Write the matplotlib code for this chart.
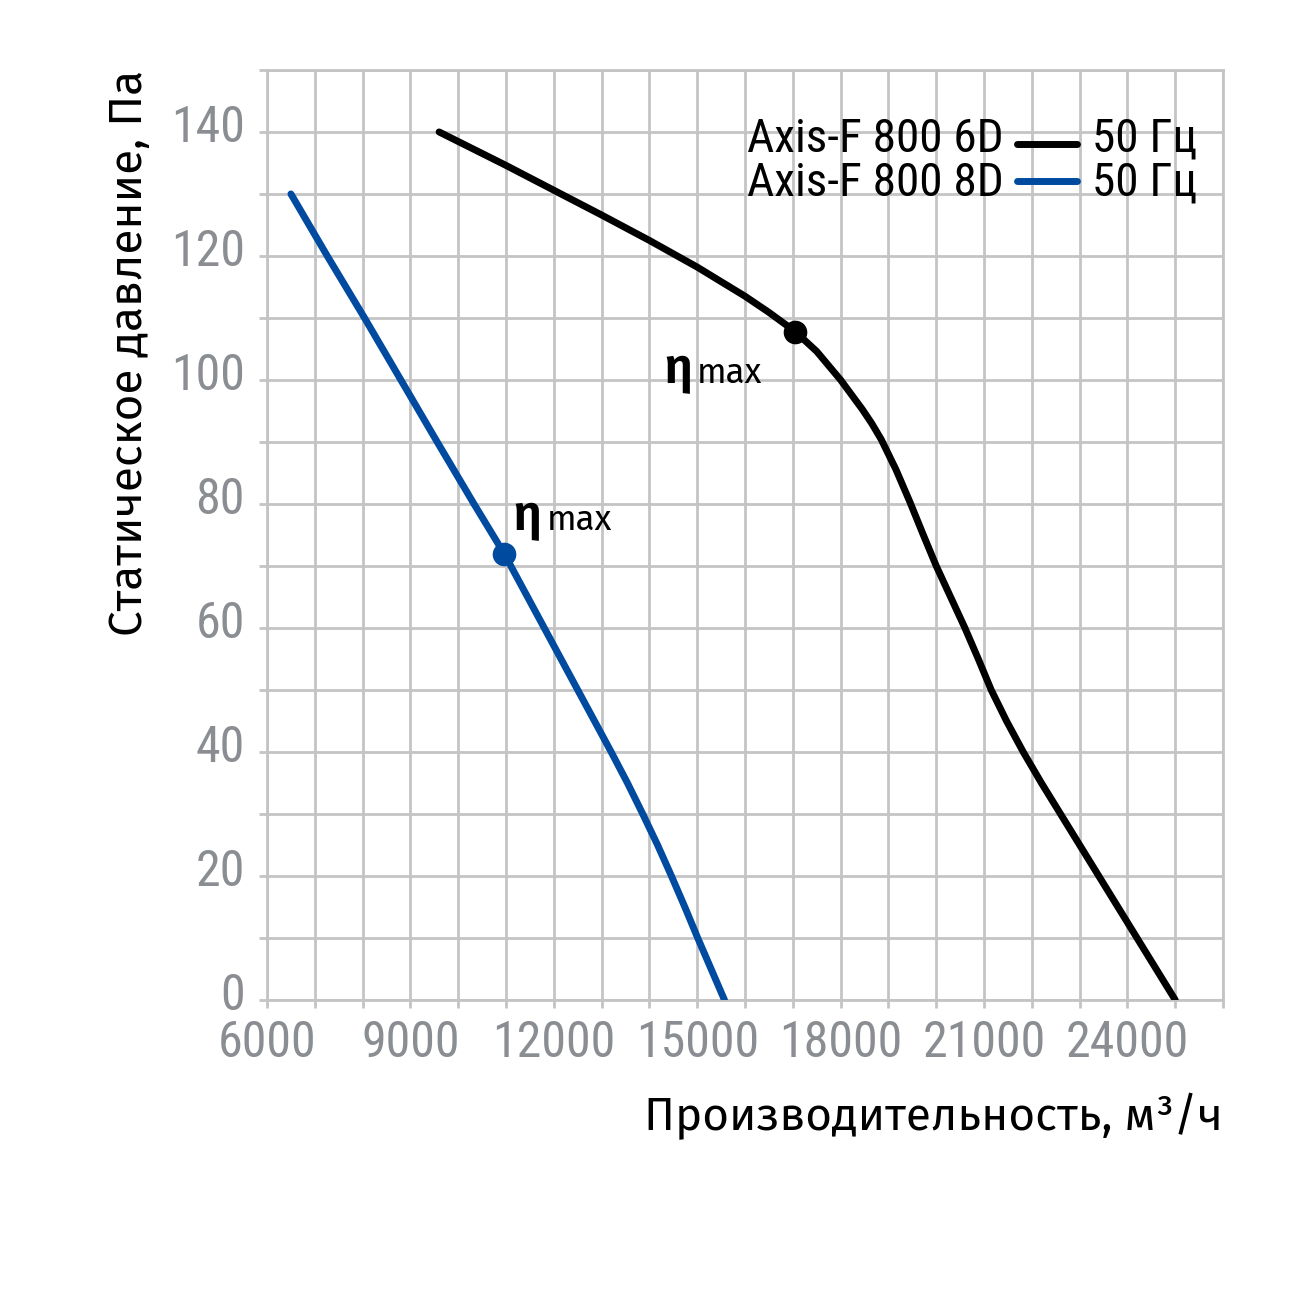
import matplotlib
matplotlib.use("Agg")
import matplotlib.pyplot as plt
from matplotlib import font_manager
from matplotlib.patches import Rectangle
from matplotlib.ticker import MultipleLocator, FuncFormatter
from matplotlib.transforms import ScaledTranslation

# flow, m3/h  /  static pressure, Pa
flow_6d = [9600, 11000, 12000, 13000, 14000, 15000, 16000, 16500, 17050,
           17500, 18000, 18450, 18650, 18850, 19160, 19450, 19730, 20000, 20300,
           20600, 20880, 21150, 21470, 21820, 22200, 22600, 23400, 24200, 25000]
press_6d = [140, 134.6, 130.6, 126.6, 122.5, 118.2, 113.5, 110.9, 107.8,
            104.6, 100, 95.3, 93, 90.4, 85.5, 80.3, 75, 70, 65,
            60, 55, 50, 45, 40, 35, 30, 20, 10, 0]

flow_8d = [6500, 7260, 8040, 8800, 9560, 10330, 10960, 11800, 12500,
           13200, 13540, 13860, 14170, 14460, 14740, 15010, 15290, 15570]
press_8d = [130, 120, 110, 100, 90, 80, 72, 60, 50,
            40, 35, 30, 25, 20, 15, 10, 5, 0]

eta_6d = (17050, 107.8)
eta_8d = (10960, 72)

legend_names = ["Axis-F 800 6D", "Axis-F 800 8D"]
legend_freq = ["50 Гц", "50 Гц"]
xlabel = "Производительность, м³/ч"
ylabel = "Статическое давление, Па"

BLACK = "#000000"
BLUE = "#004a9f"
GRID = "#c4c4c4"
TICKTXT = "#8a8d91"


def pick(names):
    have = {f.name for f in font_manager.fontManager.ttflist}
    for n in names:
        if n in have:
            return n
    return "DejaVu Sans"


cond = pick(["Roboto Condensed", "Liberation Sans Narrow", "Open Sans Condensed",
             "Roboto", "Noto Sans"])
body = pick(["Fira Sans", "Open Sans", "Noto Sans"])

fig = plt.figure(figsize=(13, 13), dpi=100)
ax = fig.add_axes([0.2054, 0.2308, 0.9408 - 0.2054, 0.9462 - 0.2308])

ax.set_xlim(6000, 26000)
ax.set_ylim(0, 150)
ax.xaxis.set_major_locator(MultipleLocator(1000))
ax.yaxis.set_major_locator(MultipleLocator(10))
ax.xaxis.set_major_formatter(FuncFormatter(
    lambda v, p: f"{int(v)}" if int(v) % 3000 == 0 and v <= 24000 else ""))
ax.yaxis.set_major_formatter(FuncFormatter(
    lambda v, p: f"{int(v)}" if int(v) % 20 == 0 and v <= 140 else ""))

ax.grid(True, color=GRID, linewidth=2.0, zorder=0)
for s in ax.spines.values():
    s.set_color(GRID)
    s.set_linewidth(2.0)
ax.tick_params(axis="both", length=6, width=2.0, color=GRID,
               labelcolor=TICKTXT, labelsize=36)
ax.tick_params(axis="y", pad=10)
ax.tick_params(axis="x", pad=8)
for lab in ax.get_xticklabels() + ax.get_yticklabels():
    lab.set_family(cond)
# y labels sit a little above their ticks
lift = ScaledTranslation(0, 0.09, fig.dpi_scale_trans)
for lab in ax.get_yticklabels():
    lab.set_transform(lab.get_transform() + lift)

# white boxes behind legend and eta labels
ax.add_patch(Rectangle((0.4916, 0.8355), 0.9728 - 0.4916, 0.9645 - 0.8355,
                       transform=ax.transAxes, facecolor="white",
                       edgecolor="none", zorder=1))
ax.add_patch(Rectangle((13531, 95.2), 16732 - 13531, 105.2 - 95.2,
                       facecolor="white", edgecolor="none", zorder=1))
ax.add_patch(Rectangle((11150, 72.3), 13845 - 11150, 81 - 72.3,
                       facecolor="white", edgecolor="none", zorder=1))

ax.plot(flow_6d, press_6d, color=BLACK, linewidth=5,
        solid_capstyle="round", solid_joinstyle="round", zorder=3)
ax.plot(flow_8d, press_8d, color=BLUE, linewidth=5,
        solid_capstyle="round", solid_joinstyle="round", zorder=3)
ax.plot(*eta_6d, "o", color=BLACK, markersize=16, zorder=4)
ax.plot(*eta_8d, "o", color=BLUE, markersize=16, zorder=4)

# eta max labels
for xe, xm, yb in [(14300, 14996, 99.5), (11140, 11858, 75.8)]:
    ax.text(xe, yb, "η", fontsize=36, family=body, weight="semibold",
            va="baseline", zorder=5)
    ax.text(xm, yb, "max", fontsize=25, family=body, va="baseline", zorder=5)

# legend drawn by hand
text_y = [0.926, 0.8785]
line_y = [0.9204, 0.8806]
for name, freq, col, ty, ly in zip(legend_names, legend_freq, [BLACK, BLUE],
                                   text_y, line_y):
    ax.text(0.7706, ty, name, transform=ax.transAxes, ha="right", va="center",
            fontsize=34, family=cond, zorder=5)
    ax.plot([0.7848, 0.8473], [ly, ly], transform=ax.transAxes,
            color=col, linewidth=5, solid_capstyle="round", zorder=5)
    ax.text(0.8630, ty, freq, transform=ax.transAxes, ha="left", va="center",
            fontsize=34, family=cond, zorder=5)

ax.set_xlabel(xlabel, fontsize=33, family=body, color=BLACK, loc="right",
              labelpad=18)
ax.set_ylabel(ylabel, fontsize=33, family=body, color=BLACK, loc="top",
              labelpad=14)

fig.savefig("out.png", dpi=100, facecolor="white")
